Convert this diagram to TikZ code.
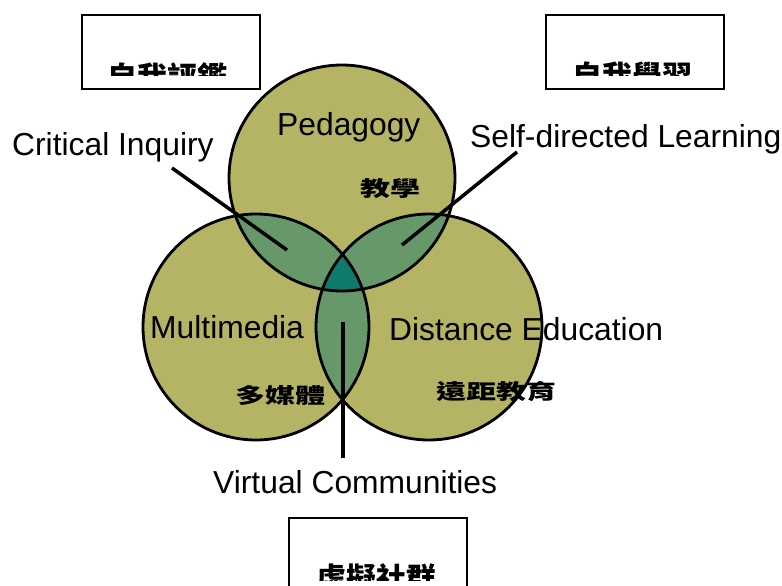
\documentclass[tikz,border=0pt]{standalone}
\usepackage{fontspec}
\setmainfont{Liberation Sans}
\newfontfamily\cjk{Noto Sans CJK TC}
\usetikzlibrary{positioning}
\definecolor{vennolive}{RGB}{180,180,100}
\definecolor{lensgreen}{RGB}{103,152,106}
\definecolor{coreteal}{RGB}{14,122,108}

\begin{document}
\begin{tikzpicture}[x=1pt, y=-1pt,
					eng/.style={font=\fontsize{31.8}{32}\selectfont, inner sep=0, anchor=base west},
					zh/.style={font=\cjk\bfseries\fontsize{30}{30}\selectfont, inner sep=0, anchor=north},
					box/.style={rectangle, draw=black, line width=2pt, minimum width=178, minimum height=74},
					ring/.style={draw=black, line width=2.8pt},
					stick/.style={draw=black, line width=3.5pt}
					]
					\useasboundingbox (0,0) rectangle (782,586);

					%Circles
					\coordinate (ped) at (342,178);
					\coordinate (mul) at (256,327);
					\coordinate (dis) at (429,327);
					\fill[vennolive] (ped) circle (113pt) (mul) circle (113pt) (dis) circle (113pt);
					\begin{scope}
						\clip (ped) circle (113pt);
						\fill[lensgreen] (mul) circle (113pt) (dis) circle (113pt);
					\end{scope}
					\begin{scope}
						\clip (mul) circle (113pt);
						\fill[lensgreen] (dis) circle (113pt);
					\end{scope}
					\begin{scope}
						\clip (ped) circle (113pt);
						\clip (mul) circle (113pt);
						\fill[coreteal] (dis) circle (113pt);
					\end{scope}
					\draw[ring] (ped) circle (113pt);
					\draw[ring] (mul) circle (113pt);
					\draw[ring] (dis) circle (113pt);

					%Nodes
					\node[eng] (crit) at (12,155)  {Critical Inquiry};
					\node[eng] (peda) at (277,135) {Pedagogy};
					\node[eng] (self) at (470,147) {Self-directed Learning};
					\node[eng] (mult) at (150,338) {Multimedia};
					\node[eng] (dist) at (389,340) {Distance Education};
					\node[eng] (virt) at (213,493) {Virtual Communities};

					\node[zh] (jiaoxue) at (390,178)   {\scalebox{1}[0.7]{教學}};
					\node[zh] (duomeiti) at (280,385)  {\scalebox{1}[0.7]{多媒體}};
					\node[zh] (yuanju) at (496,381)    {\scalebox{1}[0.7]{遠距教育}};

					%Boxes
					\node[box] (evalbox)  at (171,52)  {};
					\node[box] (learnbox) at (635,52)  {};
					\node[box] (commbox)  at (378,555) {};
					\begin{scope}
						\clip (82,15) rectangle (260,76);
						\node[zh] (eval) at (167,62) {自我評鑑};
					\end{scope}
					\begin{scope}
						\clip (547,15) rectangle (724,76);
						\node[zh] (learn) at (632,62) {自我學習};
					\end{scope}
					\begin{scope}
						\clip (290,518) rectangle (467,580);
						\node[zh] (comm) at (376,563) {虛擬社群};
					\end{scope}

					%Lines
					\coordinate (critTip)  at (172,168);
					\coordinate (critEnd)  at (287,250);
					\coordinate (selfTip)  at (517,152);
					\coordinate (selfEnd)  at (402,245);
					\coordinate (virtTop)  at (343,322);
					\coordinate (virtEnd)  at (343,458);
					\draw[stick] (critTip) to (critEnd);
					\draw[stick] (selfTip) to (selfEnd);
					\draw[stick] (virtTop) to (virtEnd);
				\end{tikzpicture}
\end{document}
